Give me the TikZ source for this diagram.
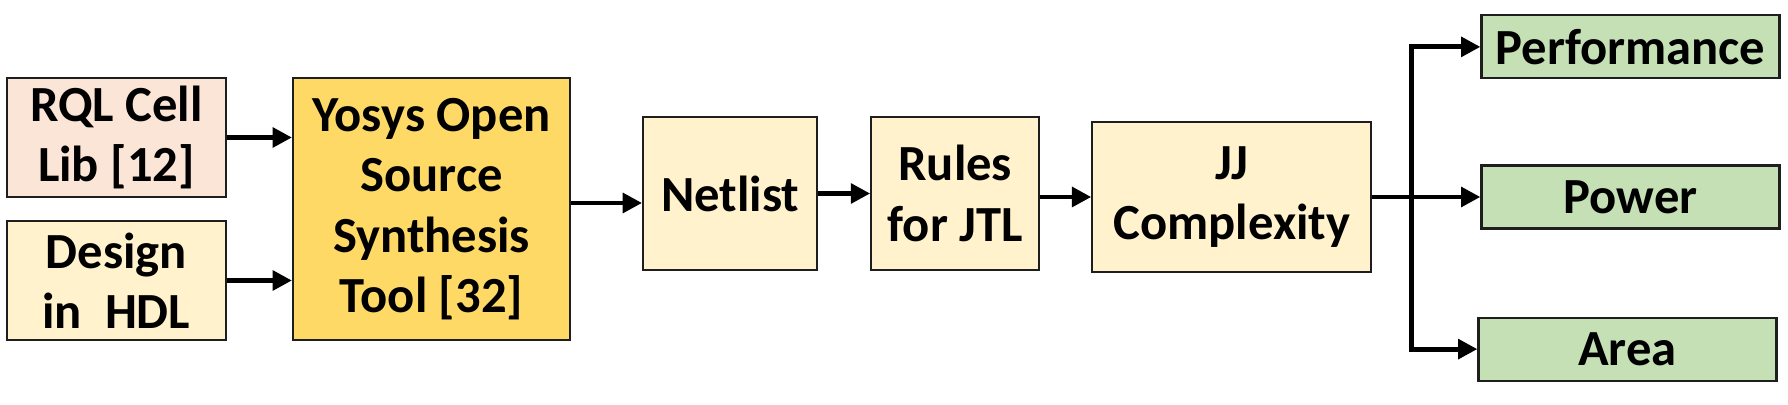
\documentclass[tikz,border=0pt]{standalone}
\usepackage{fontspec}
\setmainfont{Carlito}
\usepackage{xcolor}
\usepackage{tikz}
\usetikzlibrary{arrows.meta,positioning,calc}
\definecolor{rqlpink}{RGB}{251,229,214}
\definecolor{paleyellow}{RGB}{255,242,204}
\definecolor{gold2}{RGB}{255,217,102}
\definecolor{lightgreen}{RGB}{197,224,180}
\definecolor{edge}{RGB}{30,30,30}
\tikzset{
  basebox/.style={draw=edge, line width=0.6pt, inner sep=0pt, align=center,
    font=\fontsize{14.4}{17.2}\selectfont\bfseries},
  inbox/.style={basebox, minimum width=2.19cm, minimum height=1.19cm},
  synthbox/.style={basebox, fill=gold2, minimum width=2.77cm, minimum height=2.62cm},
  stepbox/.style={basebox, fill=paleyellow, minimum height=1.53cm},
  metricbox/.style={basebox, fill=lightgreen, minimum width=2.98cm, minimum height=0.63cm},
  flow/.style={-{Triangle[length=5.5pt,width=5.5pt]}, line width=1.4pt}
}

\begin{document}
\begin{tikzpicture}
\useasboundingbox (0,0) rectangle (17.88,-4.05);
\node[synthbox] (yosys) at (4.315,-2.09) {Yosys Open\\Source\\Synthesis\\Tool [32]};
\node[inbox, fill=rqlpink, below left=0cm and 0.65cm of yosys.north west] (rql) {RQL Cell\\Lib [12]};
\node[inbox, fill=paleyellow, above left=0cm and 0.65cm of yosys.south west] (hdl) {Design\\in~~HDL};
\node[stepbox, minimum width=1.74cm, right=0.71cm of yosys, yshift=1.55mm] (netlist) {Netlist};
\node[stepbox, minimum width=1.68cm, right=0.52cm of netlist] (rules) {Rules\\for JTL};
\node[stepbox, minimum width=2.79cm, minimum height=1.50cm, right=0.51cm of rules, yshift=-0.35mm] (jj) {JJ\\Complexity};
\node[metricbox, right=1.08cm of jj] (power) {Power};
\node[metricbox, above=0.85cm of power] (perf) {Performance};
\node[metricbox, below=0.87cm of power, xshift=-0.3mm] (area) {Area};
\coordinate[right=0.39cm of jj.east] (split);

\draw[flow] (rql.east) -- (rql.east -| yosys.west);
\draw[flow] (hdl.east) -- (hdl.east -| yosys.west);
\draw[flow] ([yshift=0.6mm]yosys.east) -- ([yshift=0.6mm]yosys.east -| netlist.west);
\draw[flow] (netlist) -- (rules);
\draw[flow] (jj.west -| rules.east) -- (jj.west);
\draw[flow] (jj.east) -- (power.west);
\draw[flow] (split) |- (perf.west);
\draw[flow] (split) |- (area.west);
\end{tikzpicture}
\end{document}
